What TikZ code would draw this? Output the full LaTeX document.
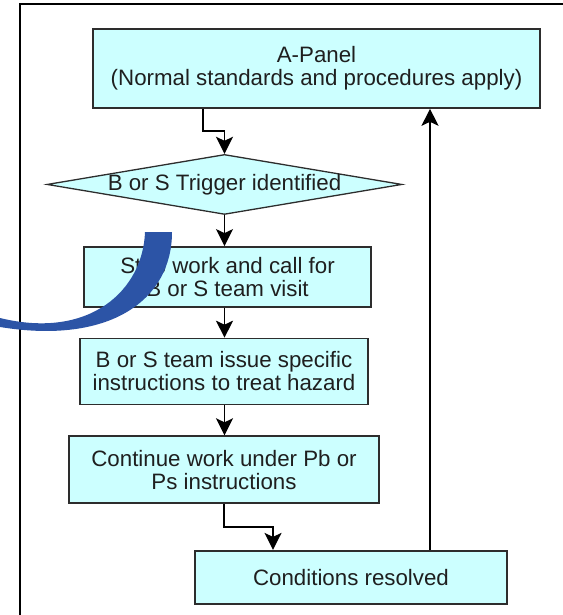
\documentclass[tikz,border=0pt]{standalone}
\usepackage{fontspec}
\setmainfont{Liberation Sans}
\usepackage{xcolor}
\newlength{\vdist}
\newlength{\vdistlong}
\usepackage{tikz}
\usetikzlibrary{positioning}
\usetikzlibrary{shapes.geometric}
\usetikzlibrary{arrows.meta}
\definecolor{boxfill}{RGB}{204,255,255}
\definecolor{boxline}{RGB}{45,45,45}
\definecolor{swoosh}{RGB}{44,84,166}
\tikzstyle{stepbox}=[draw=boxline, rectangle, fill=boxfill, line width=1.6pt, align=center, inner sep=0pt]
\tikzstyle{decision}=[draw=boxline, diamond, fill=boxfill, line width=1.3pt, inner sep=0pt, aspect=6]
\tikzstyle{flow}=[line width=1.5pt, ->]

\begin{document}
\begin{tikzpicture}[x=1pt, y=-1pt, font=\fontsize{22.3}{23}\selectfont, text=black!88, >={Stealth[length=17pt, width=17pt, inset=4pt]}]
				\useasboundingbox (0,0) rectangle (562,615);
				
				\setlength{\vdist}{30pt}
				\setlength{\vdistlong}{45pt}
				
				\draw [line width=2pt] (580,4) -- (20,4) -- (20,630);
				
				\node (apanel) [stepbox, minimum width=447pt, minimum height=79pt] at (316.5,68.5) {A-Panel\\(Normal standards and procedures apply)};
				\node (trig) [decision, minimum width=355pt, minimum height=60pt, below=\vdistlong of apanel, xshift=-92pt] {\makebox[0pt]{B or S Trigger identified}};
				\node (stop) [stepbox, minimum width=287pt, minimum height=60pt, below=31pt of trig, xshift=3pt] {Stop work and call for\\B or S team visit};
				\node (issue) [stepbox, minimum width=288pt, minimum height=66pt, below=\vdist of stop, xshift=-3.5pt] {B or S team issue specific\\instructions to treat hazard};
				\node (cont) [stepbox, minimum width=310pt, minimum height=67pt, below=\vdist of issue] {Continue work under Pb or\\Ps instructions};
				\node (res) [stepbox, minimum width=312pt, minimum height=53pt, below=46pt of cont, xshift=127pt] {Conditions resolved};
				
				\draw [flow] ([xshift=-113.5pt]apanel.south) -- ++(0,-22pt) -| (trig.north);
				\draw [flow] (trig.south) to (trig.south |- stop.north);
				\draw [flow] (trig.south |- stop.south) to (trig.south |- issue.north);
				\draw [flow] (trig.south |- issue.south) to (trig.south |- cont.north);
				\draw [flow] (cont.south) -- ++(0,-23pt) -| ([xshift=-78pt]res.north);
				\draw [flow] ([xshift=79pt]res.north) to ([xshift=79pt]res.north |- apanel.south);
				
				\fill [swoosh] (145,232) -- (172,232) .. controls (172,300) and (110,345) .. (0,327) -- (0,318) .. controls (90,340) and (143,290) .. (145,232) -- cycle;
				\end{tikzpicture}
\end{document}
